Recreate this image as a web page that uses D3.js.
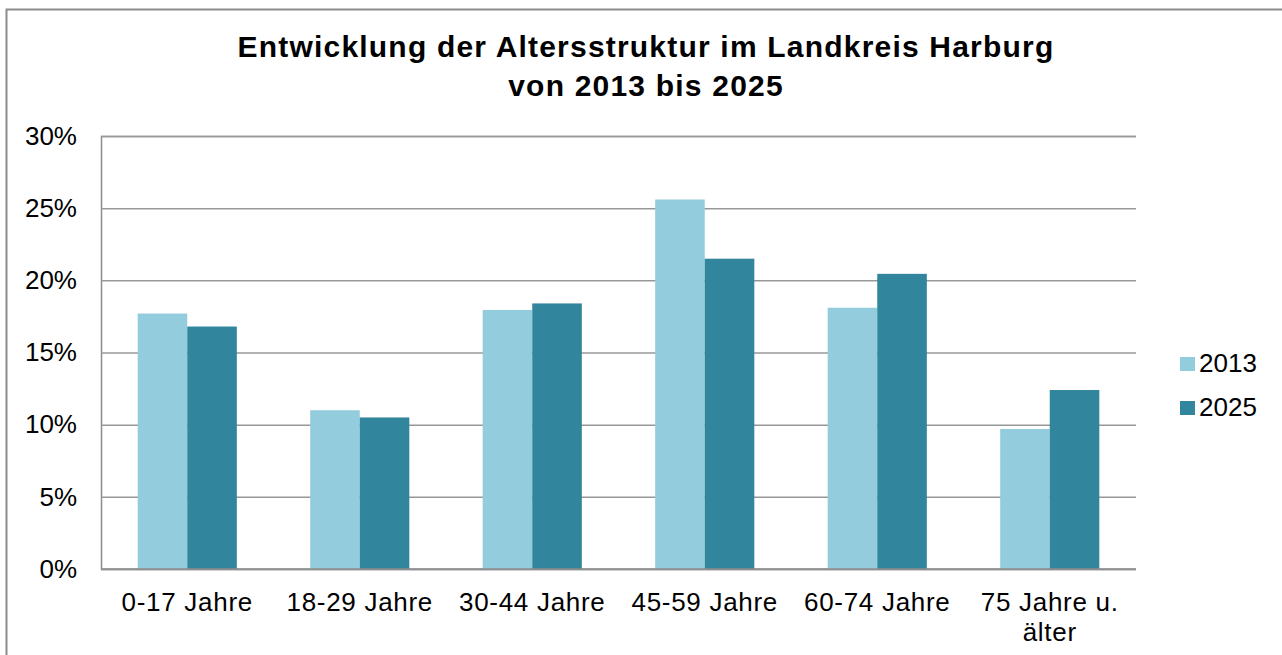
<!DOCTYPE html>
<html>
<head>
    <meta charset="utf-8">
    <title>Altersstruktur Landkreis Harburg</title>
    <script src="https://d3js.org/d3.v7.min.js"></script>
    <style>
        body { margin: 0; background: #fff; }
        svg { display: block; font-family: "Liberation Sans", Arial, sans-serif; }
    </style>
</head>
<body>
    <svg width="1282" height="655"></svg>
    <script>
        // data
        var categories = ["0-17 Jahre", "18-29 Jahre", "30-44 Jahre", "45-59 Jahre", "60-74 Jahre", "75 Jahre u.|älter"];
        var seriesNames = ["2013", "2025"];
        var values2013 = [17.7, 11.0, 17.95, 25.6, 18.1, 9.7];
        var values2025 = [16.8, 10.5, 18.4, 21.5, 20.45, 12.4];
        var yTicks = [0, 5, 10, 15, 20, 25, 30];
        var colors = ["#93cddd", "#31859c"];

        var svg = d3.select("svg"),
            width = +svg.attr("width"),
            height = +svg.attr("height");

        // outer frame (runs off the right and bottom edge)
        svg.append("rect")
            .attr("x", 6.5).attr("y", 9.5)
            .attr("width", width + 10).attr("height", height + 10)
            .attr("fill", "#fff")
            .attr("stroke", "#8c8c8c")
            .attr("stroke-width", 2);

        var plot = { left: 101, right: 1136, top: 136, bottom: 569 };

        var x = d3.scaleBand()
            .domain(categories)
            .range([plot.left, plot.right]);

        var x1 = d3.scaleBand()
            .domain(seriesNames)
            .range([0, x.bandwidth()])
            .paddingInner(0)
            .paddingOuter(0.74);

        var y = d3.scaleLinear()
            .domain([0, 30])
            .range([plot.bottom, plot.top]);

        // gridlines + y labels
        var yAxis = d3.axisLeft(y)
            .tickValues(yTicks)
            .tickSize(-(plot.right - plot.left))
            .tickPadding(24)
            .tickFormat(function(d) { return d + "%"; });

        var gy = svg.append("g")
            .attr("transform", "translate(" + plot.left + ",0)")
            .call(yAxis);
        gy.select(".domain").attr("stroke", "#8c8c8c").attr("stroke-width", 1.5);
        gy.selectAll(".tick line").attr("stroke", "#989898").attr("stroke-width", 1.5);
        gy.selectAll(".tick text")
            .attr("fill", "#000")
            .style("font-size", "26px")
            .style("font-family", "Liberation Sans, Arial, sans-serif");

        // bars
        var data = categories.map(function(c, i) {
            return { cat: c, vals: [values2013[i], values2025[i]] };
        });

        svg.append("g").selectAll("g")
            .data(data)
            .enter().append("g")
            .attr("transform", function(d) { return "translate(" + x(d.cat) + ",0)"; })
            .selectAll("rect")
            .data(function(d) { return d.vals.map(function(v, j) { return { name: seriesNames[j], v: v, j: j }; }); })
            .enter().append("rect")
            .attr("x", function(d) { return x1(d.name); })
            .attr("width", x1.bandwidth())
            .attr("y", function(d) { return y(d.v); })
            .attr("height", function(d) { return y(0) - y(d.v); })
            .attr("fill", function(d) { return colors[d.j]; });

        // x axis line
        svg.append("line")
            .attr("x1", plot.left).attr("x2", plot.right)
            .attr("y1", plot.bottom).attr("y2", plot.bottom)
            .attr("stroke", "#8c8c8c").attr("stroke-width", 1.5);

        // category labels
        var xl = svg.append("g").selectAll("text")
            .data(categories)
            .enter().append("text")
            .attr("x", function(d) { return x(d) + x.bandwidth() / 2; })
            .attr("y", 611)
            .attr("text-anchor", "middle")
            .style("font-size", "26px")
            .style("letter-spacing", "0.7px");
        xl.each(function(d) {
            var parts = d.split("|");
            var t = d3.select(this);
            parts.forEach(function(p, i) {
                t.append("tspan")
                    .attr("x", x(d) + x.bandwidth() / 2)
                    .attr("dy", i === 0 ? 0 : 30)
                    .text(p);
            });
        });

        // title
        var title = svg.append("text")
            .attr("x", 645)
            .attr("text-anchor", "middle")
            .style("font-size", "30px")
            .style("font-weight", "bold")
            .style("letter-spacing", "1.2px");
        title.append("tspan").attr("x", 646).attr("y", 57).text("Entwicklung der Altersstruktur im  Landkreis Harburg");
        title.append("tspan").attr("x", 646).attr("y", 96).text("von 2013 bis 2025");

        // legend
        var legend = svg.append("g").selectAll("g")
            .data(seriesNames)
            .enter().append("g")
            .attr("transform", function(d, i) { return "translate(1180," + (357 + i * 44) + ")"; });
        legend.append("rect")
            .attr("width", 15).attr("height", 14)
            .attr("fill", function(d, i) { return colors[i]; });
        legend.append("text")
            .attr("x", 19).attr("y", 15)
            .style("font-size", "26px")
            .text(function(d) { return d; });
    </script>
</body>
</html>
